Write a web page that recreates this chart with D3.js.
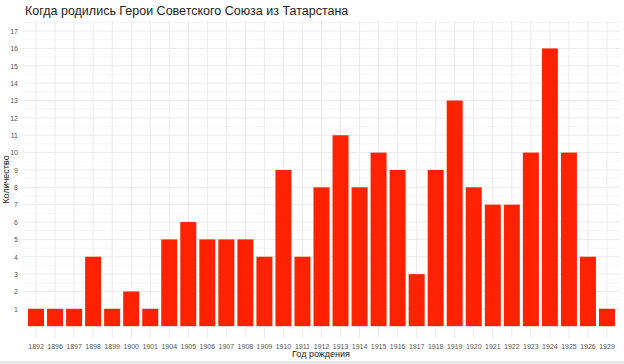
<!DOCTYPE html>
<html>
<head>
<meta charset="utf-8">
<script src="https://cdn.jsdelivr.net/npm/d3@7"></script>
<style>
  body { margin: 0; background: #fff; }
  text { font-family: "Liberation Sans", Arial, sans-serif; }
</style>
</head>
<body>
<div id="chart"></div>
<script>
// birth years and counts
var years = ["1892", "1896", "1897", "1898", "1899", "1900", "1901", "1904", "1905", "1906",
    "1907", "1908", "1909", "1910", "1911", "1912", "1913", "1914", "1915", "1916",
    "1917", "1918", "1919", "1920", "1921", "1922", "1923", "1924", "1925", "1926", "1929"];
var counts = [1, 1, 1, 4, 1, 2, 1, 5, 6, 5,
    5, 5, 4, 9, 4, 8, 11, 8, 10, 9,
    3, 9, 13, 8, 7, 7, 10, 16, 10, 4, 1];
var yTicks = d3.range(1, 18);

var svgWidth = 624;
var svgHeight = 364;

// panel edges
var margin = { top: 21, bottom: 26, right: 4, left: 22 };
var width = svgWidth - margin.left - margin.right;
var height = svgHeight - margin.top - margin.bottom;

var svg = d3.select("#chart")
    .append("svg")
    .attr("width", svgWidth)
    .attr("height", svgHeight);

var chartGroup = svg.append("g")
    .attr("transform", `translate(${margin.left}, ${margin.top})`);

var xScale = d3.scaleBand()
    .domain(years)
    .range([4.5, width - 3.5])
    .paddingInner(0.16)
    .paddingOuter(0.08);

var yScale = d3.scaleLinear()
    .domain([-0.68, 17.58])
    .range([height, 0]);

// minor horizontal lines at half steps
chartGroup.selectAll(".minor")
    .data(d3.range(0.5, 18, 1))
    .enter()
    .append("line")
    .attr("x1", 0)
    .attr("x2", width)
    .attr("y1", d => yScale(d))
    .attr("y2", d => yScale(d))
    .attr("stroke", "#f0f0f0")
    .attr("stroke-width", 0.6);

// major horizontal lines
chartGroup.selectAll(".major")
    .data(yTicks)
    .enter()
    .append("line")
    .attr("x1", 0)
    .attr("x2", width)
    .attr("y1", d => yScale(d))
    .attr("y2", d => yScale(d))
    .attr("stroke", "#e6e6e6")
    .attr("stroke-width", 0.8);

// vertical lines at each category
chartGroup.selectAll(".vline")
    .data(years)
    .enter()
    .append("line")
    .attr("x1", d => xScale(d) + xScale.bandwidth() / 2)
    .attr("x2", d => xScale(d) + xScale.bandwidth() / 2)
    .attr("y1", 0)
    .attr("y2", height)
    .attr("stroke", "#e6e6e6")
    .attr("stroke-width", 0.8);

// bars
chartGroup.selectAll(".bar")
    .data(counts)
    .enter()
    .append("rect")
    .attr("x", (d, i) => xScale(years[i]))
    .attr("y", d => yScale(d))
    .attr("width", xScale.bandwidth())
    .attr("height", d => yScale(0) - yScale(d))
    .attr("fill", "#ff2200");

// axes, no lines, just labels
var bottomAxis = d3.axisBottom(xScale).tickSize(0).tickPadding(6);
var leftAxis = d3.axisLeft(yScale).tickValues(yTicks).tickSize(0).tickPadding(4);

var xAxis = chartGroup.append("g")
    .attr("transform", `translate(0, ${height})`)
    .call(bottomAxis);

var yAxis = chartGroup.append("g")
    .call(leftAxis);

[xAxis, yAxis].forEach(function (ax) {
    ax.select(".domain").remove();
    ax.selectAll("text")
        .attr("font-family", "'Liberation Sans', Arial, sans-serif")
        .attr("font-size", 7)
        .attr("fill", "#555");
});

// title
svg.append("text")
    .attr("x", 25)
    .attr("y", 15)
    .attr("font-size", 12.5)
    .attr("fill", "#222")
    .text("Когда родились Герои Советского Союза из Татарстана");

// x axis title
svg.append("text")
    .attr("x", margin.left + width / 2)
    .attr("y", 357)
    .attr("text-anchor", "middle")
    .attr("font-size", 9)
    .attr("fill", "#222")
    .text("Год рождения");

// y axis title
svg.append("text")
    .attr("transform", `translate(9, ${margin.top + height / 2}) rotate(-90)`)
    .attr("text-anchor", "middle")
    .attr("font-size", 9)
    .attr("fill", "#222")
    .text("Количество");

// light strip at the bottom
svg.append("rect")
    .attr("x", 0)
    .attr("y", 361)
    .attr("width", svgWidth)
    .attr("height", 3)
    .attr("fill", "#e8e8e8");
</script>
</body>
</html>
